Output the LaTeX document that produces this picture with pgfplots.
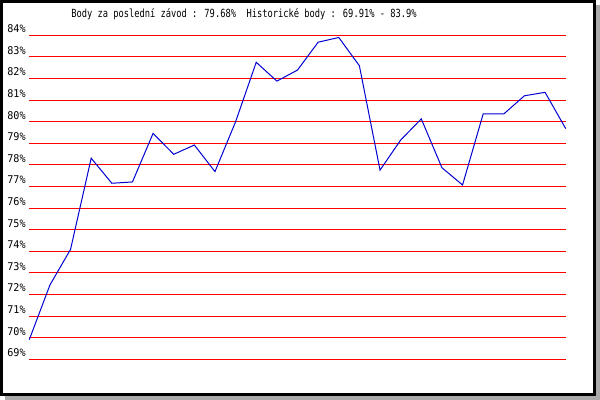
\documentclass[border=0pt]{standalone}
\usepackage{pgfplots}
\pgfplotsset{compat=1.18}
\usepackage{fontspec}
\newfontfamily\titlefont[FakeStretch=0.78]{DejaVu Sans Mono}
\newfontfamily\tickfont[FakeStretch=0.95]{DejaVu Sans Mono}
\definecolor{gridred}{RGB}{255,0,0}
\definecolor{lineblue}{RGB}{0,0,210}
\definecolor{shadowgray}{RGB}{170,170,170}

\begin{document}
\begin{tikzpicture}[x=0.75pt,y=0.75pt]
\path[use as bounding box] (0,0) rectangle (600,400);
% frame with drop shadow
\fill[shadowgray] (5,0) rectangle (600,395);
\fill[white] (0,4) rectangle (596,400);
\draw[line width=2pt] (1.4,5.4) rectangle (594.6,398.6);
\node[anchor=base west, inner sep=0pt, font=\titlefont\fontsize{8.4pt}{10pt}\selectfont]
  at (71,382.7) {Body za poslední závod : 79.68\%\ \ Historické body : 69.91\% - 83.9\%};

\begin{axis}[
    at={(21.975pt,30.525pt)}, anchor=south west,
    scale only axis,
    width=402.3pt, height=243pt,
    xmin=1, xmax=27,
    ymin=69, ymax=84,
    axis line style={draw=none},
    xtick=\empty,
    ytick={69,70,71,72,73,74,75,76,77,78,79,80,81,82,83,84},
    yticklabels={69\%,70\%,71\%,72\%,73\%,74\%,75\%,76\%,77\%,78\%,79\%,80\%,81\%,82\%,83\%,84\%},
    yticklabel style={font=\tickfont\fontsize{8pt}{9pt}\selectfont,
        anchor=base east, inner sep=0pt, xshift=-2.5pt, yshift=2pt},
    major tick length=0pt,
    ymajorgrids,
    grid style={gridred, line width=0.75pt},
    clip=false
]
\addplot[lineblue, line width=0.75pt] coordinates {
    (1,69.91) (2,72.44) (3,74.09) (4,78.31) (5,77.15) (6,77.21)
    (7,79.46) (8,78.49) (9,78.92) (10,77.69) (11,80.00) (12,82.75)
    (13,81.88) (14,82.39) (15,83.68) (16,83.90) (17,82.59) (18,77.76)
    (19,79.15) (20,80.13) (21,77.87) (22,77.07) (23,80.36) (24,80.36)
    (25,81.20) (26,81.36) (27,79.68)
};
\end{axis}
\end{tikzpicture}
\end{document}
